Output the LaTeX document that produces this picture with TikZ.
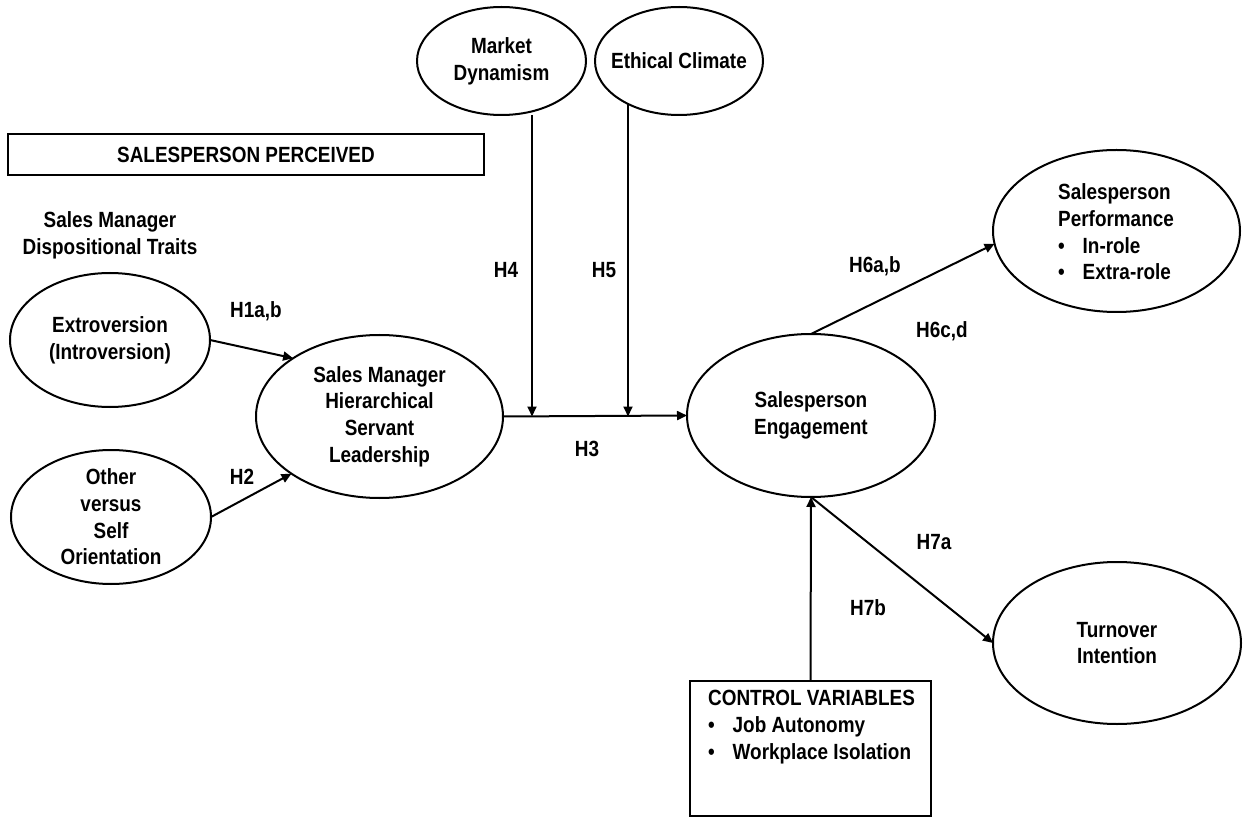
\documentclass[tikz,border=0pt]{standalone}
\usepackage{fontspec}
\setmainfont{Liberation Sans}[FakeStretch=0.86]
\usetikzlibrary{shapes.geometric,arrows.meta}
\newcommand\bulitem[1]{\makebox[24.5pt][l]{\textbullet}#1}
\begin{document}
\begin{tikzpicture}[x=1pt,y=-1pt,
  every node/.style={font=\fontsize{22}{26.7}\selectfont\bfseries},
  ell/.style={draw, ellipse, line width=2pt, inner sep=0pt, outer sep=0pt},
  box/.style={draw, rectangle, line width=2pt, inner sep=0pt, outer sep=0pt},
  txt/.style={align=center, inner sep=0pt},
  lbl/.style={inner sep=0pt},
  conn/.style={line width=2pt, -{Triangle[length=10pt,width=9pt]}},
  plain/.style={line width=2pt}]
\useasboundingbox (0,0) rectangle (1251,818);

% top ellipses
\node[ell, minimum width=169pt, minimum height=108pt] (market) at (501.5,61) {};
\node[txt] (markett) at (market) {Market\\Dynamism};
\node[ell, minimum width=168pt, minimum height=108pt] (ethic) at (679,61) {};
\node[txt] (ethict) at (ethic) {Ethical Climate};

% header box and title
\node[box, minimum width=476pt, minimum height=41pt] (perc) at (246,154.5) {};
\node[txt] (perct) at (perc) {SALESPERSON PERCEIVED};
\node[txt] (traits) at (110,235) {Sales Manager\\Dispositional Traits};

% left ellipses
\node[ell, minimum width=200pt, minimum height=134pt] (extro) at (110,340) {};
\node[txt] (extrot) at (extro) {Extroversion\\(Introversion)};
\node[ell, minimum width=200pt, minimum height=134pt] (other) at (111,517) {};
\node[txt] (othert) at (other) {Other\\versus\\Self\\Orientation};

% central ellipses
\node[ell, minimum width=247pt, minimum height=163pt] (smh) at (379.5,416.5) {};
\node[txt] (smht) at (smh) {Sales Manager\\Hierarchical\\Servant\\Leadership};
\node[ell, minimum width=248pt, minimum height=163pt] (eng) at (811,415.5) {};
\node[txt] (engt) at (eng) {Salesperson\\Engagement};

% right ellipses
\node[ell, minimum width=247pt, minimum height=162pt] (perf) at (1116.5,231) {};
\node[txt, align=left, anchor=west] (perft) at (1058,232)
  {Salesperson\\Performance\\\bulitem{In-role}\\\bulitem{Extra-role}};
\node[ell, minimum width=248pt, minimum height=162pt] (turn) at (1117,643) {};
\node[txt] (turnt) at (turn) {Turnover\\Intention};

% control box
\node[box, minimum width=241pt, minimum height=135pt] (ctrl) at (810.5,748.5) {};
\node[txt, align=left, anchor=west] (ctrlt) at (708,727)
  {CONTROL VARIABLES\\\bulitem{Job Autonomy}\\\bulitem{Workplace Isolation}};

% junctions on H3 path
\coordinate (j4) at (532,416.5);
\coordinate (j5) at (628,416.5);

% connectors
\draw[conn] (extro.east) -- (smh.146.6);
\draw[conn] (other.east) -- (smh.213.4);
\draw[conn] (smh.east) -- (eng.west);
\draw[conn] (j4 |- market.south) -- (j4);
\draw[conn] (j5 |- ethic.220) -- (j5);
\draw[conn] (eng.north) -- (perf.186.4);
\draw[conn] (eng.south) -- (turn.west);
\draw[conn] (ctrl.north) -- (eng.south);

% labels
\node[lbl] (h1) at (256,311) {H1a,b};
\node[lbl] (h2) at (242,477) {H2};
\node[lbl] (h3) at (587,449) {H3};
\node[lbl] (h4) at (506,270) {H4};
\node[lbl] (h5) at (604,270) {H5};
\node[lbl] (h6ab) at (875,266) {H6a,b};
\node[lbl] (h6cd) at (942,331) {H6c,d};
\node[lbl] (h7a) at (934,542) {H7a};
\node[lbl] (h7b) at (868,608) {H7b};
\end{tikzpicture}
\end{document}
